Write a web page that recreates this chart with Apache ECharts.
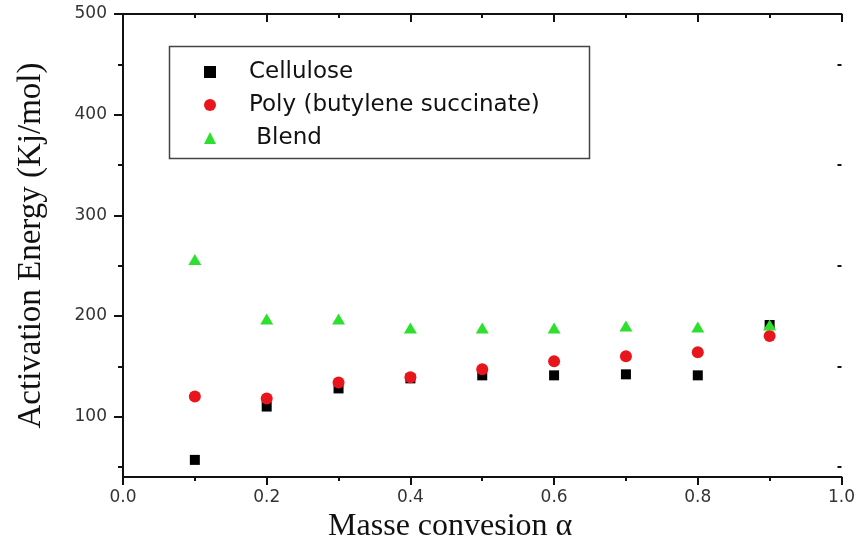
<!DOCTYPE html>
<html>
<head>
<meta charset="utf-8">
<script src="https://cdn.jsdelivr.net/npm/echarts@6/dist/echarts.min.js"></script>
<style>
  html, body { margin: 0; padding: 0; background: #fff; }
  #main { width: 858px; height: 549px; }
</style>
</head>
<body>
<div id="main"></div>
<script>
// data
var conversion = [0.1, 0.2, 0.3, 0.4, 0.5, 0.6, 0.7, 0.8, 0.9];
var cellulose = [57, 110, 128, 138, 141, 141, 142, 141, 191];
var pbs = [120, 118, 134, 139, 147, 155, 160, 164, 180];
var blend = [256, 197, 197, 188, 188, 188, 190, 189, 191];
var yLabels = [100, 200, 300, 400, 500];
var yMinor = [50, 150, 250, 350, 450];

function pairs(vals) {
    var out = [];
    for (var i = 0; i < conversion.length; i++) {
        out.push([conversion[i], vals[i]]);
    }
    return out;
}

var chart = echarts.init(document.getElementById('main'));
var axisCol = '#111';
var sans = 'DejaVu Sans';
var serif = 'Liberation Serif';

var option = {
    backgroundColor: '#fff',
    animation: false,
    grid: { left: 123, top: 14, right: 15, bottom: 72 },
    legend: {
        orient: 'vertical',
        left: 199,
        top: 55,
        itemWidth: 12,
        itemHeight: 12,
        itemGap: 9,
        textStyle: { fontFamily: sans, fontSize: 23, lineHeight: 24, color: '#111', padding: [0, 0, 0, 28] },
        data: ['Cellulose', 'Poly (butylene succinate)', ' Blend']
    },
    graphic: [{
        type: 'rect',
        left: 167, top: 44,
        shape: { width: 420, height: 112 },
        style: { fill: 'none', stroke: '#444', lineWidth: 1.5 },
        z: 1
    }],
    xAxis: [{
        type: 'value', position: 'bottom', min: 0, max: 1, interval: 0.2,
        name: 'Masse convesion α', nameLocation: 'middle', nameGap: 33,
        nameTextStyle: { fontFamily: serif, fontSize: 32, color: '#111', padding: [0, 64, 0, 0] },
        axisLine: { lineStyle: { color: axisCol, width: 2 } },
        axisTick: { inside: false, length: 8, lineStyle: { color: axisCol, width: 2 } },
        minorTick: { show: true, splitNumber: 2, length: 4, lineStyle: { color: axisCol, width: 2 } },
        axisLabel: { fontFamily: sans, fontSize: 17, color: '#333', margin: 12,
            formatter: function (v) { return v.toFixed(1); } },
        splitLine: { show: false }
    }, {
        type: 'value', position: 'top', min: 0, max: 1, interval: 0.2,
        axisLine: { lineStyle: { color: axisCol, width: 2 } },
        axisTick: { inside: true, length: 8, lineStyle: { color: axisCol, width: 2 } },
        minorTick: { show: true, splitNumber: 2, length: 4, lineStyle: { color: axisCol, width: 2 } },
        axisLabel: { show: false },
        splitLine: { show: false }
    }],
    yAxis: [{
        type: 'value', position: 'left', min: 40, max: 500,
        name: 'Activation Energy (Kj/mol)', nameLocation: 'middle', nameGap: 75,
        nameTextStyle: { fontFamily: serif, fontSize: 33, color: '#111' },
        axisLine: { lineStyle: { color: axisCol, width: 2 } },
        axisTick: { inside: false, length: 9, customValues: yLabels, lineStyle: { color: axisCol, width: 2 } },
        axisLabel: { fontFamily: sans, fontSize: 17, color: '#333', margin: 16, customValues: yLabels },
        splitLine: { show: false }
    }, {
        type: 'value', position: 'right', min: 40, max: 500,
        axisLine: { lineStyle: { color: axisCol, width: 2 } },
        axisTick: { inside: true, length: 8, customValues: yLabels, lineStyle: { color: axisCol, width: 2 } },
        axisLabel: { show: false },
        splitLine: { show: false }
    }, {
        type: 'value', position: 'left', min: 40, max: 500,
        axisLine: { show: false },
        axisTick: { inside: false, length: 5, customValues: yMinor, lineStyle: { color: axisCol, width: 2 } },
        axisLabel: { show: false },
        splitLine: { show: false }
    }, {
        type: 'value', position: 'right', min: 40, max: 500,
        axisLine: { show: false },
        axisTick: { inside: true, length: 4, customValues: yMinor, lineStyle: { color: axisCol, width: 2 } },
        axisLabel: { show: false },
        splitLine: { show: false }
    }],
    series: [{
        name: 'Cellulose', type: 'scatter', symbol: 'rect', symbolSize: 10,
        itemStyle: { color: '#000', opacity: 1 },
        data: pairs(cellulose), z: 3
    }, {
        name: 'Poly (butylene succinate)', type: 'scatter', symbol: 'circle', symbolSize: [12, 12],
        itemStyle: { color: '#e8161c', opacity: 1 },
        data: pairs(pbs), z: 4
    }, {
        name: ' Blend', type: 'scatter', symbol: 'triangle', symbolSize: [13, 11],
        itemStyle: { color: '#2ee02e', opacity: 1 },
        data: pairs(blend), z: 5
    }]
};
chart.setOption(option);
</script>
</body>
</html>
